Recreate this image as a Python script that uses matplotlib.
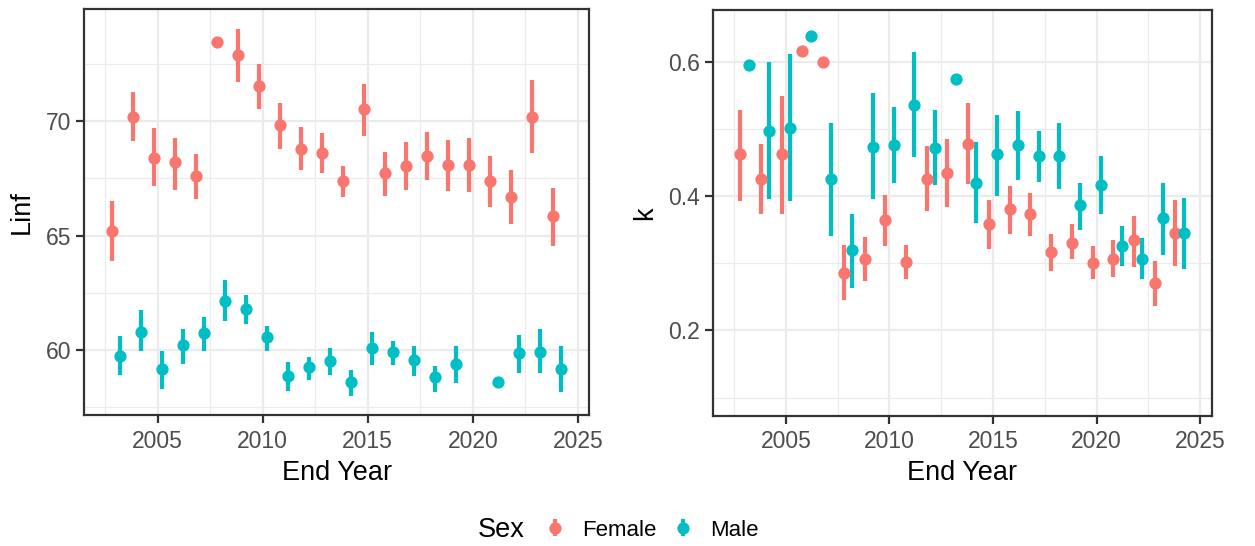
import numpy as np
import matplotlib
matplotlib.use("Agg")
import matplotlib.pyplot as plt
from matplotlib.container import ErrorbarContainer
from matplotlib.legend_handler import HandlerErrorbar

nan = np.nan

years = np.arange(2003, 2025)

# Linf estimates with intervals
linf_f = [65.2, 70.2, 68.4, 68.2, 67.6, 73.45, 72.9, 71.55, 69.85, 68.8, 68.6,
          67.4, 70.55, 67.75, 68.05, 68.5, 68.1, 68.1, 67.4, 66.7, 70.2, 65.85]
linf_f_lo = [63.9, 69.15, 67.15, 67.0, 66.6, nan, 71.7, 70.55, 68.8, 67.85, 67.75,
             66.7, 69.35, 66.75, 67.0, 67.45, 66.95, 66.9, 66.25, 65.5, 68.6, 64.55]
linf_f_hi = [66.5, 71.3, 69.7, 69.25, 68.55, nan, 74.05, 72.5, 70.8, 69.75, 69.5,
             68.05, 71.65, 68.65, 69.1, 69.55, 69.2, 69.25, 68.5, 67.85, 71.8, 67.1]

linf_m = [59.75, 60.8, 59.15, 60.2, 60.75, 62.15, 61.8, 60.55, 58.85, 59.25, 59.5,
          58.6, 60.1, 59.9, 59.55, 58.8, 59.4, nan, 58.6, 59.85, 59.9, 59.15]
linf_m_lo = [58.9, 59.95, 58.3, 59.4, 59.95, 61.25, 61.15, 59.95, 58.2, 58.7, 58.9,
             58.0, 59.35, 59.35, 58.85, 58.15, 58.55, nan, nan, 59.0, 59.0, 58.15]
linf_m_hi = [60.6, 61.75, 59.95, 60.9, 61.45, 63.05, 62.4, 61.05, 59.45, 59.7, 60.1,
             59.1, 60.8, 60.4, 60.15, 59.3, 60.15, nan, nan, 60.65, 60.9, 60.15]

# k estimates with intervals
k_f = [0.462, 0.426, 0.462, 0.616, 0.600, 0.286, 0.307, 0.364, 0.302, 0.426, 0.435,
       0.478, 0.359, 0.380, 0.374, 0.316, 0.330, 0.300, 0.307, 0.334, 0.271, 0.345]
k_f_lo = [0.393, 0.374, 0.374, nan, nan, 0.245, 0.274, 0.326, 0.276, 0.378, 0.383,
          0.418, 0.321, 0.343, 0.340, 0.288, 0.306, 0.276, 0.279, 0.294, 0.236, 0.296]
k_f_hi = [0.528, 0.477, 0.549, nan, nan, 0.327, 0.339, 0.401, 0.327, 0.475, 0.485,
          0.539, 0.394, 0.415, 0.404, 0.344, 0.358, 0.326, 0.334, 0.370, 0.304, 0.394]

k_m = [0.595, 0.497, 0.502, 0.639, 0.425, 0.320, 0.473, 0.476, 0.535, 0.471, 0.574,
       0.419, 0.462, 0.476, 0.460, 0.460, 0.386, 0.417, 0.326, 0.307, 0.367, 0.345]
k_m_lo = [nan, 0.396, 0.393, nan, 0.341, 0.263, 0.396, 0.420, 0.458, 0.417, nan,
          0.360, 0.400, 0.424, 0.421, 0.410, 0.350, 0.374, 0.296, 0.276, 0.312, 0.292]
k_m_hi = [nan, 0.600, 0.611, nan, 0.509, 0.373, 0.554, 0.533, 0.614, 0.528, nan,
          0.480, 0.521, 0.526, 0.497, 0.509, 0.420, 0.459, 0.356, 0.337, 0.420, 0.397]

sexes = ["Female", "Male"]
colors = {"Female": "#F8766D", "Male": "#00BFC4"}
dodge = {"Female": -0.2, "Male": 0.2}

plt.rcParams["font.family"] = ["Liberation Sans", "DejaVu Sans"]

fig = plt.figure(figsize=(12.55, 5.46), dpi=100)
ax1 = fig.add_axes([84.3 / 1255, 1 - 415 / 546, 505 / 1255, 405.7 / 546])
ax2 = fig.add_axes([713.3 / 1255, 1 - 415.7 / 546, 498.4 / 1255, 405.7 / 546])


def pointrange(ax, y, lo, hi, sex):
    y = np.array(y, dtype=float)
    err = np.vstack([y - np.array(lo, dtype=float), np.array(hi, dtype=float) - y])
    return ax.errorbar(years + dodge[sex], y, yerr=err, fmt="o", ms=7.8,
                       color=colors[sex], ecolor=colors[sex], elinewidth=3.0,
                       capsize=0, label=sex, zorder=3)


h_f = pointrange(ax1, linf_f, linf_f_lo, linf_f_hi, "Female")
h_m = pointrange(ax1, linf_m, linf_m_lo, linf_m_hi, "Male")
pointrange(ax2, k_f, k_f_lo, k_f_hi, "Female")
pointrange(ax2, k_m, k_m_lo, k_m_hi, "Male")


def style(ax, yticks, yminor, ylim, ylabel, ylabelpad):
    ax.set_xlim(2001.5, 2025.55)
    ax.set_ylim(*ylim)
    ax.set_xticks([2005, 2010, 2015, 2020, 2025])
    ax.set_xticks([2002.5, 2007.5, 2012.5, 2017.5, 2022.5], minor=True)
    ax.set_yticks(yticks)
    ax.set_yticks(yminor, minor=True)
    ax.grid(which="major", color="#EBEBEB", lw=1.6, zorder=0)
    ax.grid(which="minor", color="#EBEBEB", lw=0.9, zorder=0)
    ax.set_axisbelow(True)
    for s in ax.spines.values():
        s.set_color("#333333")
        s.set_linewidth(1.6)
    ax.tick_params(which="major", length=5.5, width=1.6, color="#333333",
                   labelsize=16.5, labelcolor="#4D4D4D")
    ax.tick_params(axis="x", which="major", pad=5)
    ax.tick_params(axis="y", which="major", pad=4)
    ax.tick_params(which="minor", length=0)
    ax.set_xlabel("End Year", fontsize=19.5, labelpad=5)
    ax.set_ylabel(ylabel, fontsize=19.5, labelpad=ylabelpad)


style(ax1, [60, 65, 70], [57.5, 62.5, 67.5, 72.5], (57.15, 74.9), "Linf", 8)
style(ax2, [0.2, 0.4, 0.6], [0.1, 0.3, 0.5], (0.073, 0.677), "k", 7)
ax2.yaxis.set_major_formatter(matplotlib.ticker.FormatStrFormatter("%.1f"))

fig.text(478 / 1255, 1 - 530 / 546, "Sex", fontsize=19.5, va="center", ha="left")
fig.legend([h_f, h_m], sexes, loc="center left",
           bbox_to_anchor=(542 / 1255, 1 - 530 / 546), ncol=2, frameon=False,
           fontsize=16, handlelength=1.2, handletextpad=0.6, columnspacing=0.6,
           borderpad=0, borderaxespad=0,
           handler_map={ErrorbarContainer: HandlerErrorbar(xerr_size=0.38)})

fig.savefig("out.png", dpi=100)
